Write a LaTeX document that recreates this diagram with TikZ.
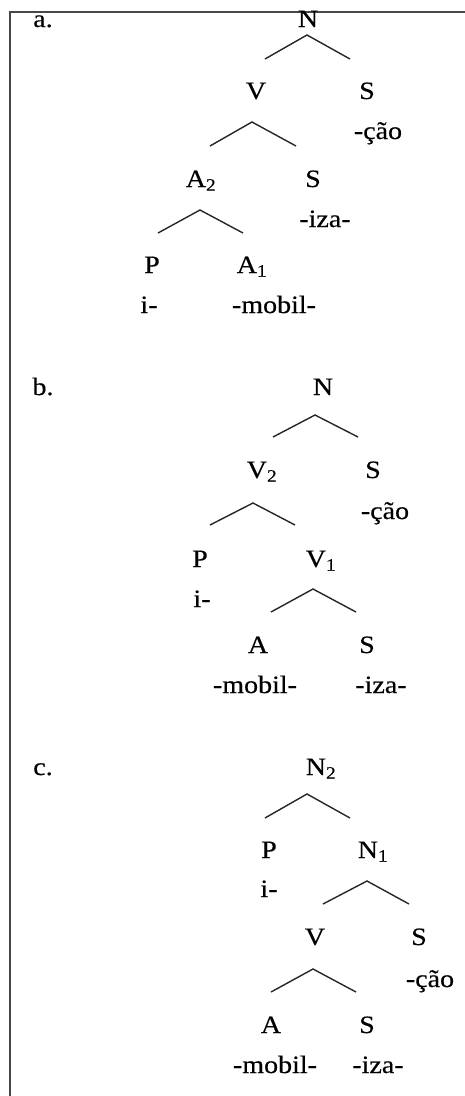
\documentclass[tikz,border=0pt]{standalone}
\usepackage{fontspec}
\setmainfont{Liberation Serif}[FakeStretch=1.12,FakeBold=0.4]
\begin{document}
\begin{tikzpicture}[x=1pt,y=-1pt,
  lab/.style={anchor=base,inner sep=0pt,font=\fontsize{25}{28}\selectfont},
  br/.style={line width=1.4pt,black!85},
  frame/.style={line width=2.8pt,black!72}]
\useasboundingbox (0,0) rectangle (465,1096);
\draw[frame] (465,12) -- (10,12) -- (10,1096);
% ---------- a ----------
\node[lab] (la) at (43,27) {a.};
\node[lab] (aN) at (308,27) {N};
\coordinate (aNt) at (307,35); \coordinate (aNl) at (265,59); \coordinate (aNr) at (350,59);
\draw[br] (aNl) -- (aNt) -- (aNr);
\node[lab] (aV) at (256,99) {V};
\node[lab] (aS1) at (367,99) {S};
\coordinate (aVt) at (252,122); \coordinate (aVl) at (210,146); \coordinate (aVr) at (296,146);
\draw[br] (aVl) -- (aVt) -- (aVr);
\node[lab] (acao) at (378,139) {-ção};
\node[lab] (aA2) at (201,187) {A\textsubscript{2}};
\node[lab] (aS2) at (313,187) {S};
\coordinate (aAt) at (200,210); \coordinate (aAl) at (158,233); \coordinate (aAr) at (243,233);
\draw[br] (aAl) -- (aAt) -- (aAr);
\node[lab] (aiza) at (325,227) {-iza-};
\node[lab] (aP) at (152,273) {P};
\node[lab] (aA1) at (252,273) {A\textsubscript{1}};
\node[lab] (ai) at (149,313) {i-};
\node[lab] (amob) at (274,313) {-mobil-};
% ---------- b ----------
\node[lab] (lb) at (43,395) {b.};
\node[lab] (bN) at (323,395) {N};
\coordinate (bNt) at (315,415); \coordinate (bNl) at (273,437); \coordinate (bNr) at (358,437);
\draw[br] (bNl) -- (bNt) -- (bNr);
\node[lab] (bV2) at (262,478) {V\textsubscript{2}};
\node[lab] (bS1) at (373,478) {S};
\coordinate (bVt) at (253,503); \coordinate (bVl) at (210,525); \coordinate (bVr) at (295,525);
\draw[br] (bVl) -- (bVt) -- (bVr);
\node[lab] (bcao) at (385,519) {-ção};
\node[lab] (bP) at (200,567) {P};
\node[lab] (bV1) at (321,567) {V\textsubscript{1}};
\node[lab] (bi) at (202,607) {i-};
\coordinate (bV1t) at (313,589); \coordinate (bV1l) at (271,612); \coordinate (bV1r) at (356,612);
\draw[br] (bV1l) -- (bV1t) -- (bV1r);
\node[lab] (bA) at (258,653) {A};
\node[lab] (bS2) at (367,653) {S};
\node[lab] (bmob) at (255,693) {-mobil-};
\node[lab] (biza) at (381,693) {-iza-};
% ---------- c ----------
\node[lab] (lc) at (43,775) {c.};
\node[lab] (cN2) at (321,775) {N\textsubscript{2}};
\coordinate (cNt) at (307,794); \coordinate (cNl) at (265,818); \coordinate (cNr) at (350,818);
\draw[br] (cNl) -- (cNt) -- (cNr);
\node[lab] (cP) at (269,858) {P};
\node[lab] (cN1) at (373,858) {N\textsubscript{1}};
\node[lab] (ci) at (269,897) {i-};
\coordinate (cN1t) at (367,881); \coordinate (cN1l) at (323,904); \coordinate (cN1r) at (409,904);
\draw[br] (cN1l) -- (cN1t) -- (cN1r);
\node[lab] (cV) at (315,945) {V};
\node[lab] (cS1) at (419,945) {S};
\coordinate (cVt) at (313,969); \coordinate (cVl) at (271,992); \coordinate (cVr) at (356,992);
\draw[br] (cVl) -- (cVt) -- (cVr);
\node[lab] (ccao) at (430,987) {-ção};
\node[lab] (cA) at (271,1033) {A};
\node[lab] (cS2) at (367,1033) {S};
\node[lab] (cmob) at (275,1073) {-mobil-};
\node[lab] (ciza) at (378,1073) {-iza-};
\end{tikzpicture}
\end{document}
